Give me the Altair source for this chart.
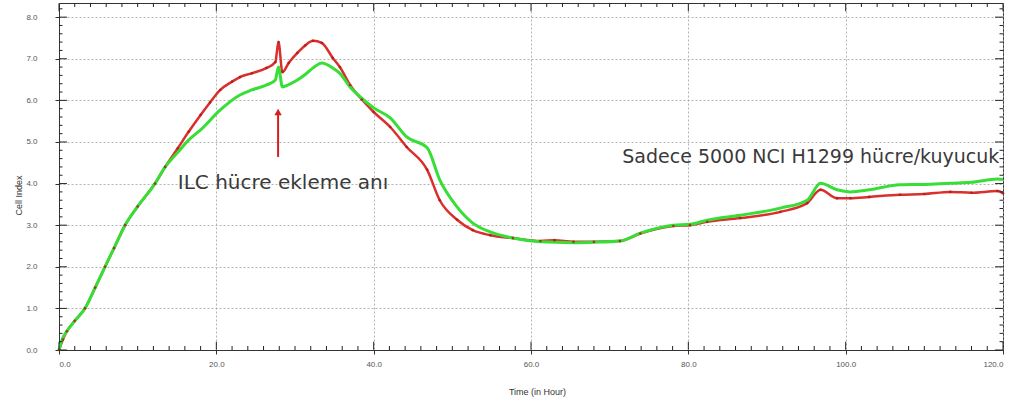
import altair as alt
import pandas as pd

# ---- data ----
red_t = [0, 0.5, 1, 2, 3.3, 4.6, 5.85, 7, 8.4, 10, 12.2, 13.5, 15.1, 16.5, 18, 19.2, 20.5, 22, 23, 24.5,
         26.4, 27.5, 27.9, 28.4, 29.2, 30.3, 31.3, 32.3, 33.4, 34.8, 35.7, 37, 38.5, 40, 42.1, 44.2,
         46.8, 48.4, 50.6, 52.6, 54.8, 57.7, 61.2, 63, 65.4, 68, 71.3, 73.9, 78.1, 80.2, 82.4, 86.6,
         91.7, 95.1, 96.8, 98.9, 100.6, 103, 106.9, 110, 113.3, 116, 119.3, 120]
red_v = [0, 0.25, 0.45, 0.7, 1.0, 1.5, 2.0, 2.45, 3.0, 3.45, 4.0, 4.4, 4.85, 5.25, 5.65, 5.95, 6.25, 6.45, 6.56, 6.65,
         6.78, 6.92, 7.4, 6.68, 6.9, 7.14, 7.32, 7.43, 7.38, 7.02, 6.8, 6.37, 6.02, 5.72, 5.36, 4.88,
         4.33, 3.6, 3.13, 2.88, 2.76, 2.69, 2.62, 2.64, 2.6, 2.6, 2.62, 2.8, 2.98, 3.0, 3.08, 3.17,
         3.32, 3.53, 3.85, 3.65, 3.65, 3.68, 3.73, 3.75, 3.8, 3.78, 3.82, 3.77]

green_t = [0, 0.5, 1, 2, 3.3, 4.6, 5.85, 7, 8.4, 10, 12.2, 13.5, 15.1, 16.5, 18, 20.5, 23, 24.5, 26.4, 27.5,
           27.9, 28.4, 29.2, 30.3, 31.3, 32.3, 33.4, 34.8, 35.7, 37, 38.5, 40, 42.1, 44.2, 46.8, 48.4,
           50.6, 52.6, 54.8, 57.7, 61.2, 65.4, 68, 71.3, 73.9, 78.1, 80.2, 82.4, 86.6, 91.7, 95.1,
           96.8, 98.9, 100.6, 103, 106.9, 110, 113.3, 116, 119.3, 120]
green_v = [0, 0.3, 0.45, 0.7, 1.0, 1.5, 2.0, 2.45, 3.0, 3.45, 4.0, 4.4, 4.75, 5.05, 5.29, 5.77, 6.13, 6.25, 6.37, 6.49,
           6.8, 6.32, 6.38, 6.49, 6.62, 6.78, 6.9, 6.78, 6.65, 6.32, 6.05, 5.82, 5.58, 5.12, 4.86, 4.09,
           3.44, 3.05, 2.84, 2.69, 2.6, 2.58, 2.59, 2.62, 2.81, 3.0, 3.02, 3.12, 3.24, 3.41, 3.6,
           4.01, 3.85, 3.8, 3.85, 3.97, 3.98, 4.01, 4.03, 4.11, 4.1]

x_major = [0, 20, 40, 60, 80, 100, 120]
x_minor = list(range(0, 121, 2))
y_major = [0, 1, 2, 3, 4, 5, 6, 7, 8]
y_minor = [round(i * 0.2, 1) for i in range(0, 42)]

notes = ["ILC hücre ekleme anı", "Sadece 5000 NCI H1299 hücre/kuyucuk"]
note_t = [15.1, 71.6]
note_v = [4.01, 4.64]
note_size = [20, 19]

arrow_t = 27.85
arrow_from = 4.64
arrow_to = 5.72

YMAX = 8.34
XMAX = 120

RED = "#da2f2c"
RED_DOT = "#a81c1c"
GREEN = "#36de36"

df_red = pd.DataFrame({"t": red_t, "v": red_v})
df_green = pd.DataFrame({"t": green_t, "v": green_v})

xs = alt.Scale(domain=[0, XMAX], nice=False, zero=False)
ys = alt.Scale(domain=[0, YMAX], nice=False, zero=False)

x_axis = alt.Axis(values=x_major, format=".1f", title="Time (in Hour)", grid=True,
                  gridDash=[2, 2], gridColor="#a0a0a0", gridWidth=0.8,
                  ticks=True, tickSize=4, tickColor="#333", tickWidth=1,
                  domain=True, domainColor="#333",
                  labelFontSize=8, labelColor="#555", labelFont="Liberation Sans", labelPadding=6,
                  titleFontSize=9, titleFontWeight="normal", titleColor="#333",
                  titleFont="Liberation Sans", titleX=478, titleY=37)
y_axis = alt.Axis(values=y_major, format=".1f", title="Cell Index", grid=True,
                  gridDash=[2, 2], gridColor="#a0a0a0", gridWidth=0.8,
                  ticks=True, tickSize=4, tickColor="#333", tickWidth=1,
                  domain=True, domainColor="#333",
                  labelFontSize=8, labelColor="#555", labelFont="Liberation Sans", labelPadding=18,
                  titleFontSize=9, titleFontWeight="normal", titleColor="#333",
                  titleFont="Liberation Sans", titleX=-36, titleY=192)

X = lambda f: alt.X(f, type="quantitative", scale=xs, axis=x_axis)
Y = lambda f: alt.Y(f, type="quantitative", scale=ys, axis=y_axis)

red_line = alt.Chart(df_red).mark_line(color=RED, strokeWidth=2.5, interpolate="monotone").encode(
    x=X("t"), y=Y("v"))
green_line = alt.Chart(df_green).mark_line(color=GREEN, strokeWidth=3, interpolate="monotone").encode(
    x=X("t"), y=Y("v"))
red_pts = alt.Chart(df_red).mark_circle(color=RED_DOT, size=7, opacity=0.8).encode(x=X("t"), y=Y("v"))

# inward minor tick marks along the frame
xt_rows = []
for t in x_major:
    xt_rows += [{"xt": float(t), "yc": 0.1, "len": 8}, {"xt": float(t), "yc": YMAX - 0.1, "len": 8}]
for t in x_minor:
    if t not in x_major:
        xt_rows += [{"xt": float(t), "yc": 0.05, "len": 4}, {"xt": float(t), "yc": YMAX - 0.05, "len": 4}]
yt_rows = []
for v in y_major:
    yt_rows += [{"yt": float(v), "xc": 0.5, "len": 8}, {"yt": float(v), "xc": XMAX - 0.5, "len": 8}]
for v in y_minor:
    if v not in y_major:
        yt_rows += [{"yt": float(v), "xc": 0.22, "len": 3.5}, {"yt": float(v), "xc": XMAX - 0.22, "len": 3.5}]

xticks = alt.Chart(pd.DataFrame(xt_rows)).mark_tick(
    orient="vertical", color="#222", thickness=1, opacity=1
).encode(x=X("xt"), y=Y("yc"), size=alt.Size("len:Q", scale=None, legend=None))
yticks = alt.Chart(pd.DataFrame(yt_rows)).mark_tick(
    orient="horizontal", color="#222", thickness=1, opacity=1
).encode(x=X("xc"), y=Y("yt"), size=alt.Size("len:Q", scale=None, legend=None))

df_notes = pd.DataFrame({"label": notes, "t": note_t, "v": note_v, "s": note_size})
note_text = alt.Chart(df_notes).mark_text(
    align="left", baseline="middle", font="DejaVu Sans", color="#3a3a3a"
).encode(x=X("t"), y=Y("v"), text="label:N",
         size=alt.Size("s:Q", scale=None, legend=None))

df_arrow = pd.DataFrame({"t": [arrow_t], "a": [arrow_from], "b": [arrow_to]})
arrow_shaft = alt.Chart(df_arrow).mark_rule(color="#d42020", strokeWidth=2).encode(
    x=X("t"), y=Y("a"), y2="b:Q")
arrow_head = alt.Chart(df_arrow).mark_point(
    shape="triangle-up", filled=True, color="#d42020", size=55, opacity=1
).encode(x=X("t"), y=Y("b"))

chart = alt.layer(
    red_line, green_line, red_pts, xticks, yticks, note_text, arrow_shaft, arrow_head
).properties(
    width=944, height=347,
    autosize=alt.AutoSizeParams(type="none"),
    padding={"left": 59, "top": 3, "right": 7, "bottom": 57},
    background="white",
).configure_view(stroke="#333", strokeWidth=1)

chart.save("out.html", embed_options={"renderer": "svg", "actions": False})
